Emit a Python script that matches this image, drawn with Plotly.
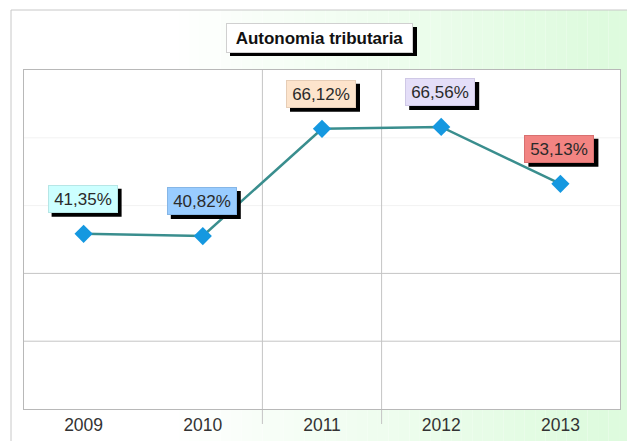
import plotly.graph_objects as go

# ---- data ----
years = ["2009", "2010", "2011", "2012", "2013"]
values = [41.35, 40.82, 66.12, 66.56, 53.13]
value_labels = ["41,35%", "40,82%", "66,12%", "66,56%", "53,13%"]
grid_values = [16, 32, 48, 64]
separator_positions = [1.5, 2.5]
chart_title = "Autonomia tributaria"

# ---- styles ----
label_fills = ["#ccffff", "#99ccff", "#fde4cc", "#e4def8", "#f28482"]
label_borders = ["#b6e6e6", "#86b6e6", "#e6cdb6", "#cfc8e6", "#d87070"]
grid_colors = ["#c4c4c4", "#c4c4c4", "#f2f2f2", "#f2f2f2"]
FONT = "Liberation Sans, Arial, sans-serif"

W, H = 627, 441
L, R, T, B = 24, 620, 70, 409


def px_x(p):
    return (p - L) / (R - L)


def px_y(p):
    return (B - p) / (B - T)


idx = list(range(len(years)))

fig = go.Figure()
fig.add_trace(go.Scatter(
    x=idx, y=values, mode="lines+markers",
    line=dict(color="#3a8e8e", width=2.5),
    marker=dict(symbol="diamond", size=14, color="#1598e0",
                line=dict(width=0)),
    hoverinfo="skip", showlegend=False,
))

shapes = []
# background gradient strips (paper area inside outer frame)
N = 60
x0p, x1p = 11, 640
for i in range(N):
    a = x0p + (x1p - x0p) * i / N
    b = x0p + (x1p - x0p) * (i + 1) / N
    mid = (a + b) / 2
    t = min(max((mid - 170) / (600 - 170), 0), 1)
    r = round(255 - (255 - 222) * t)
    g = round(255 - (255 - 251) * t)
    bb = round(255 - (255 - 222) * t)
    shapes.append(dict(type="rect", xref="paper", yref="paper",
                       x0=px_x(a), x1=px_x(b), y0=px_y(10), y1=px_y(460),
                       fillcolor=f"rgb({r},{g},{bb})", line=dict(width=0),
                       layer="below"))
# white plot area
shapes.append(dict(type="rect", xref="paper", yref="paper",
                   x0=0, x1=1, y0=0, y1=1, fillcolor="white",
                   line=dict(width=0), layer="below"))
# outer frame
shapes.append(dict(type="rect", xref="paper", yref="paper",
                   x0=px_x(11), x1=px_x(700), y0=px_y(10), y1=px_y(500),
                   fillcolor="rgba(0,0,0,0)",
                   line=dict(color="#c8c8c8", width=1), layer="below"))
# grid lines
for gv, gc in zip(grid_values, grid_colors):
    shapes.append(dict(type="line", xref="paper", yref="y",
                       x0=0, x1=1, y0=gv, y1=gv,
                       line=dict(color=gc, width=1), layer="below"))
# vertical separators
for sp in separator_positions:
    shapes.append(dict(type="line", xref="x", yref="paper",
                       x0=sp, x1=sp, y0=px_y(424), y1=1,
                       line=dict(color="#c4c4c4", width=1), layer="below"))

# title shadow
shapes.append(dict(type="rect", xref="paper", yref="paper",
                   x0=px_x(230), x1=px_x(417), y0=px_y(56), y1=px_y(27),
                   fillcolor="black", line=dict(width=0), layer="above"))

# label shadows (pixel-sized, anchored on data points)
LBL_W, LBL_H, LBL_PAD = 62, 20, 3
box_w = LBL_W + 2 * LBL_PAD + 2
box_h = LBL_H + 2 * LBL_PAD + 2
YS, XS = 35, -1
for i, v in zip(idx, values):
    shapes.append(dict(type="rect", xref="x", yref="y",
                       xsizemode="pixel", ysizemode="pixel",
                       xanchor=i, yanchor=v,
                       x0=XS - box_w / 2 + 4, x1=XS + box_w / 2 + 4,
                       y0=YS - box_h / 2 - 4, y1=YS + box_h / 2 - 4,
                       fillcolor="black", line=dict(width=0), layer="above"))

annotations = []
tx, ty = 319.5, 37.5
annotations.append(dict(xref="paper", yref="paper", x=px_x(tx), y=px_y(ty),
                        text=chart_title, showarrow=False,
                        font=dict(family=FONT, size=17, color="#111", weight="bold"),
                        bgcolor="white", bordercolor="#d0d0d0", borderwidth=1,
                        borderpad=5, width=175, height=18,
                        xanchor="center", yanchor="middle"))
for i, v, lab in zip(idx, values, value_labels):
    annotations.append(dict(xref="x", yref="y", x=i, y=v, text=lab,
                            showarrow=False, xshift=XS, yshift=YS,
                            font=dict(family=FONT, size=17, color="#2a2a2a"),
                            bgcolor=label_fills[i], bordercolor=label_borders[i],
                            borderwidth=1, borderpad=LBL_PAD,
                            width=LBL_W, height=LBL_H,
                            xanchor="center", yanchor="middle"))

fig.update_layout(
    width=W, height=H,
    margin=dict(l=L, r=W - R, t=T, b=H - B, pad=0),
    paper_bgcolor="white", plot_bgcolor="white",
    shapes=shapes, annotations=annotations,
    font=dict(family=FONT, size=17, color="#333"),
    xaxis=dict(range=[-0.5, 4.5], showgrid=False, zeroline=False,
               tickmode="array", tickvals=idx, ticktext=years,
               showline=True, linecolor="#b8b8b8", linewidth=1, mirror=True,
               ticks="", tickfont=dict(size=17.5, color="#333"),
               fixedrange=True),
    yaxis=dict(range=[0, 80], showgrid=False, zeroline=False,
               showline=True, linecolor="#b8b8b8", linewidth=1, mirror=True,
               showticklabels=False, ticks="", fixedrange=True),
    showlegend=False,
)

fig.write_html("out.html", config={"displayModeBar": False},
               post_script="document.body.style.margin='0px';")
